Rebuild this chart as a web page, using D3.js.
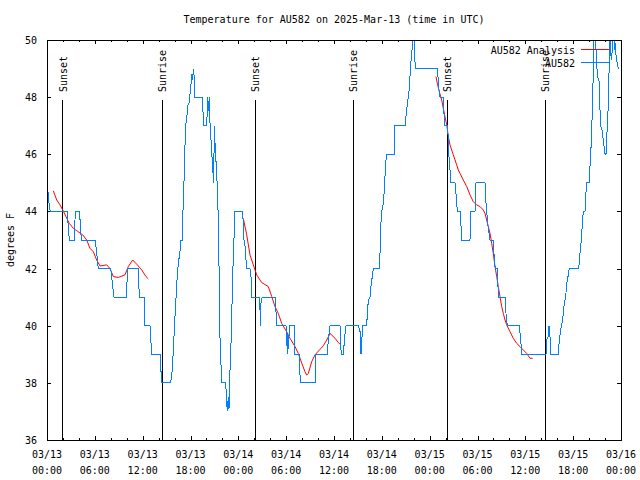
<!DOCTYPE html>
<html><head><meta charset="utf-8">
<script src="https://cdn.jsdelivr.net/npm/d3@7"></script>
<style>
body{margin:0;background:#fff}
text{font-family:"DejaVu Sans Mono","Liberation Mono",monospace;font-size:10px;fill:#000}
</style>
</head><body>
<svg id="chart" width="640" height="480"></svg>
<script>
// ---- data (hours since 03/13 00:00 UTC, degrees F) ----
const obsHours = [
0,0.088,0.251,0.414,2.546,2.634,2.797,3.424,3.550,4.052,4.177,4.302,6.059,6.435,7.990,8.404,9.997,10.072,11.452,11.578,
12.167,12.255,12.920,13.133,14.174,14.387,15.516,15.717,15.843,15.968,16.144,16.307,16.470,16.645,16.808,16.971,17.097,17.272,17.348,17.523,
17.649,17.812,17.937,18.188,18.276,18.351,18.477,18.565,19.530,19.606,20.032,20.158,20.233,20.358,20.446,20.572,20.697,20.785,20.910,20.985,
21.073,21.287,21.412,21.537,21.663,21.914,22.415,22.541,22.616,22.742,22.829,22.955,23.043,23.168,23.294,23.582,24.548,24.623,24.711,24.836,
24.962,25.050,25.464,25.677,25.714,26.592,26.718,26.806,26.843,27.007,28.687,28.763,29.979,30.067,30.142,30.230,30.318,30.393,31.020,31.108,
31.647,31.773,33.654,33.742,35.160,35.285,35.498,36.753,36.840,36.916,37.167,37.254,37.380,37.505,39.048,39.262,39.387,39.512,39.600,40.102,
40.227,40.353,40.516,40.679,40.805,40.930,41.683,41.770,41.858,41.983,42.184,42.310,42.485,42.611,43.564,43.652,44.906,45.119,45.320,45.446,
45.621,45.747,45.872,46.035,46.161,46.249,48.958,49.083,49.209,49.296,49.710,49.773,49.886,50.212,50.300,50.425,50.550,50.676,51.178,51.266,
51.391,51.466,51.893,51.968,53.059,53.147,53.687,53.812,54.941,55.066,55.154,55.279,55.405,55.568,55.982,56.107,56.195,56.321,56.484,56.572,
56.660,57.450,57.575,57.738,59.244,59.419,59.545,62.593,62.681,62.844,62.969,63.095,63.182,64.136,64.261,64.437,64.600,64.763,64.889,65.064,
65.189,65.352,65.515,66.644,66.770,66.858,66.983,67.146,67.272,67.485,67.573,67.698,67.986,68.112,68.200,68.325,68.450,68.526,68.613,68.739,
68.864,68.952,69.153,69.278,69.366,69.491,69.617,69.780,69.993,70.119,70.207,70.332,70.407,70.495,70.620,70.783,70.871,70.959,71.122,71.210,
71.285,71.373,71.536,71.661];
const obsTempF = [
45.0,44.8,44.3,44.0,44.0,43.6,43.0,43.0,44.0,44.0,43.6,43.0,43.0,42.0,42.0,41.0,41.0,42.0,42.0,41.0,
41.0,40.0,40.0,39.0,39.0,38.0,38.0,38.45,39.15,39.85,40.8,41.6,42.2,42.5,43.0,43.0,44.5,45.6,47.0,47.2,
47.7,47.8,48.1,48.8,48.6,49.0,48.7,48.0,48.0,47.0,47.0,48.0,47.5,48.0,47.1,46.5,45.9,45.5,45.0,47.0,
46.4,45.3,44.5,43.1,39.85,38.0,38.0,37.3,37.0,37.5,37.1,38.45,39.0,40.3,41.8,44.0,44.0,43.5,43.0,42.8,
42.3,42.0,42.0,41.5,41.0,41.0,40.55,40.0,40.8,41.0,41.0,40.0,40.0,39.6,39.0,39.7,39.2,40.0,40.0,39.0,
39.0,38.0,38.0,39.0,39.0,39.5,40.0,40.0,39.3,39.0,39.0,39.3,39.7,40.0,40.0,39.8,39.0,39.6,40.0,40.0,
40.67,40.9,41.0,41.48,41.72,42.0,42.0,42.53,43.47,44.0,44.28,44.75,45.68,46.0,46.0,47.0,47.0,47.55,48.0,48.3,
49.18,49.47,50.0,50.0,49.24,49.0,49.0,48.6,48.13,48.0,48.0,47.55,47.0,47.0,46.7,45.9,45.45,45.0,45.0,44.75,
44.3,44.0,44.0,43.0,43.0,44.0,44.0,45.0,45.0,44.3,44.0,43.6,43.3,43.0,43.0,42.3,42.07,42.0,42.0,41.37,
41.0,41.0,40.43,40.0,40.0,39.5,39.0,39.0,39.5,39.6,40.0,39.6,39.0,39.0,39.5,39.85,40.08,40.43,40.78,41.02,
41.48,41.72,42.0,42.0,42.18,42.53,42.88,43.52,44.0,44.0,44.52,45.0,45.0,45.57,45.92,46.97,47.67,49.18,50.0,50.0,
49.65,49.07,48.6,48.54,47.55,46.97,46.85,46.5,46.03,46.0,46.67,47.0,48.0,48.83,50.0,49.3,49.53,50.0,50.0,49.65,
49.88,49.47,49.18,49.0];

// analysis: three runs, separated by null
const anaHours = [
0.79,1.22,1.63,1.97,2.38,2.80,3.30,3.80,4.48,4.98,5.39,5.81,6.23,6.65,7.49,7.90,8.32,8.94,9.78,10.20,10.75,11.33,11.88,12.42,12.71,
null,
24.62,25.05,25.46,25.88,26.30,26.93,27.76,28.19,28.60,29.01,29.44,30.07,30.48,31.11,31.52,31.95,32.36,32.58,32.78,33.20,33.62,34.24,34.66,35.09,35.50,36.13,36.54,36.75,
null,
48.79,48.96,49.21,49.51,49.71,49.92,50.14,50.34,50.55,50.76,50.97,51.18,51.39,51.59,51.81,52.22,52.65,53.06,53.47,53.90,54.31,54.73,54.94,55.15,55.36,55.57,55.78,55.98,56.20,56.41,56.61,56.82,57.04,57.24,57.45,57.66,58.08,58.49,58.92,59.33,59.75,60.17,60.59,60.92];
const anaTempF = [
44.72,44.40,44.23,44.05,43.82,43.58,43.41,43.31,43.18,43.00,42.71,42.59,42.30,42.09,42.13,42.00,41.72,41.69,41.78,42.07,42.30,42.13,41.95,41.72,41.64,
null,
43.76,43.18,42.48,42.13,41.78,41.51,41.37,41.02,40.67,40.43,40.08,39.79,39.56,39.27,39.03,38.69,38.39,38.27,38.33,38.74,38.98,39.17,39.30,39.50,39.73,39.56,39.41,39.36,
null,
48.72,48.48,48.19,47.90,47.61,47.32,47.03,46.62,46.33,46.15,45.98,45.80,45.63,45.45,45.33,45.10,44.87,44.58,44.34,44.23,44.17,44.05,43.93,43.70,43.47,43.23,42.88,42.53,42.07,41.72,41.37,41.02,40.67,40.43,40.20,40.03,39.79,39.56,39.38,39.27,39.15,39.03,38.86,38.86];

const sunsetHours  = [1.97, 26.13, 50.21];
const sunriseHours = [14.46, 38.42, 62.51];

const xTickHours  = [0,6,12,18,24,30,36,42,48,54,60,66,72];
const xTickDates  = ["03/13","03/13","03/13","03/13","03/14","03/14","03/14","03/14","03/15","03/15","03/15","03/15","03/16"];
const xTickTimes  = ["00:00","06:00","12:00","18:00","00:00","06:00","12:00","18:00","00:00","06:00","12:00","18:00","00:00"];
const yTicks      = [36,38,40,42,44,46,48,50];

const titleText = "Temperature for AU582 on 2025-Mar-13 (time in UTC)";
const seriesNames = ["AU582 Analysis","AU582"];
const seriesColors = ["#ff0000","#0080ff"];

// ---- drawing ----
const svg = d3.select("#chart");
const L = 47, R = 621, T = 40, B = 440;
const x = d3.scaleLinear().domain([0,72]).range([L,R]);
const y = d3.scaleLinear().domain([36,50]).range([B,T]);

svg.append("defs").append("clipPath").attr("id","clip")
  .append("rect").attr("x",L).attr("y",T).attr("width",R-L).attr("height",B-T);

// ticks via d3 axes
const minorHours = d3.range(0,73,2).filter(h => h % 6 !== 0);
function addAxis(gen, tr){
  const g = svg.append("g").attr("transform",tr).call(gen);
  g.select(".domain").remove();
  g.selectAll("line").attr("stroke","#000").attr("shape-rendering","crispEdges");
  g.selectAll("text").remove();
  return g;
}
addAxis(d3.axisBottom(x).tickValues(minorHours).tickSizeInner(-2).tickSizeOuter(0), `translate(0,${B})`);
addAxis(d3.axisBottom(x).tickValues(xTickHours).tickSizeInner(-4).tickSizeOuter(0), `translate(0,${B})`);
addAxis(d3.axisTop(x).tickValues(minorHours).tickSizeInner(-2).tickSizeOuter(0), `translate(0,${T})`);
addAxis(d3.axisTop(x).tickValues(xTickHours).tickSizeInner(-4).tickSizeOuter(0), `translate(0,${T})`);
addAxis(d3.axisLeft(y).tickValues(yTicks).tickSizeInner(-4).tickSizeOuter(0), `translate(${L},0)`);
addAxis(d3.axisRight(y).tickValues(yTicks).tickSizeInner(-4).tickSizeOuter(0), `translate(${R},0)`);

// tick labels
const xl = svg.append("g");
xTickHours.forEach((h,i)=>{
  const t = xl.append("text").attr("x",x(h)).attr("text-anchor","middle");
  t.append("tspan").attr("x",x(h)).attr("y",458).text(xTickDates[i]);
  t.append("tspan").attr("x",x(h)).attr("y",474).text(xTickTimes[i]);
});
svg.append("g").selectAll("text").data(yTicks).join("text")
  .attr("x",37).attr("y",d=>y(d)+4).attr("text-anchor","end").text(d=>d);

// title & axis label
svg.append("text").attr("x",(L+R)/2).attr("y",23).attr("text-anchor","middle").text(titleText);
svg.append("text").attr("transform","translate(14,240) rotate(-90)").attr("text-anchor","middle").text("degrees F");

// sunrise / sunset markers
const sun = sunsetHours.map(h=>({h,label:"Sunset"})).concat(sunriseHours.map(h=>({h,label:"Sunrise"})));
sun.forEach(d=>{
  svg.append("line").attr("x1",x(d.h)).attr("x2",x(d.h)).attr("y1",100).attr("y2",B)
    .attr("stroke","#000").attr("shape-rendering","crispEdges");
  svg.append("text").attr("transform",`translate(${x(d.h)+4},92) rotate(-90)`).attr("text-anchor","start").text(d.label);
});

// data lines
const plot = svg.append("g").attr("clip-path","url(#clip)");
const anaData = anaHours.map((h,i)=>({h, v: anaTempF[i]}));
const obsData = obsHours.map((h,i)=>({h, v: obsTempF[i]}));
const line = d3.line().defined(d=>d.h!==null && d.v!==null).x(d=>x(d.h)).y(d=>y(d.v));
plot.append("path").attr("d",line(anaData)).attr("fill","none").attr("stroke",seriesColors[0]).attr("stroke-width",1);
plot.append("path").attr("d",line(obsData)).attr("fill","none").attr("stroke",seriesColors[1]).attr("stroke-width",1)
  .attr("shape-rendering","crispEdges");

// border
svg.append("rect").attr("x",L).attr("y",T).attr("width",R-L).attr("height",B-T)
  .attr("fill","none").attr("stroke","#000").attr("shape-rendering","crispEdges");

// legend
seriesNames.forEach((n,i)=>{
  const ly = 49.5 + i*13;
  svg.append("text").attr("x",575).attr("y",ly+4).attr("text-anchor","end").text(n);
  svg.append("line").attr("x1",581).attr("x2",609).attr("y1",ly).attr("y2",ly)
    .attr("stroke",seriesColors[i]).attr("shape-rendering","crispEdges");
});
</script>
</body></html>
